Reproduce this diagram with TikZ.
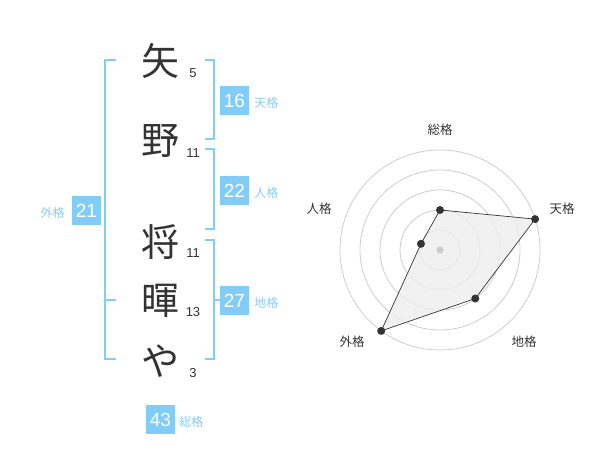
\documentclass[tikz,border=0pt]{standalone}
\usepackage{fontspec}
\setmainfont{Liberation Sans}
\newfontfamily\jpfont{Noto Sans CJK JP}
\usetikzlibrary{positioning}
\definecolor{kakublue}{HTML}{82CDF8}
\definecolor{kakutext}{HTML}{86CDF5}
\definecolor{inkgray}{HTML}{333333}
\definecolor{ringgray}{HTML}{CCCCCC}
\definecolor{areagray}{HTML}{EEEEEE}
\tikzset{
  moji/.style={font=\jpfont\fontsize{38}{38}\selectfont, text=inkgray, inner sep=0pt},
  kakusu/.style={font=\fontsize{13}{13}\selectfont, text=inkgray, inner sep=0pt},
  kakubox/.style={fill=kakublue, text=white, minimum size=29pt, inner sep=0pt, font=\fontsize{19}{19}\selectfont},
  kakuname/.style={font=\jpfont\fontsize{12}{12}\selectfont, text=kakutext, inner sep=0pt},
  kakku/.style={draw=kakublue, line width=2pt},
  radarname/.style={font=\jpfont\fontsize{12.5}{12.5}\selectfont, text=inkgray, inner sep=0pt},
  ring/.style={draw=ringgray, line width=0.8pt},
}
\begin{document}
\begin{tikzpicture}[x=1pt,y=-1pt]
    \useasboundingbox (0,0) rectangle (600,470);

    % name, one character per line
    \node[moji] (ya) at (160,61) {矢};
    \node[moji] (no) at (160,141) {野};
    \node[moji] (sho) at (160,242) {将};
    \node[moji] (ki) at (160,301) {暉};
    \node[moji] (ya2) at (160,361) {や};

    \node[kakusu] (n1) at (193,73) {5};
    \node[kakusu] (n2) at (193,153) {11};
    \node[kakusu] (n3) at (193,253) {11};
    \node[kakusu] (n4) at (193,312) {13};
    \node[kakusu] (n5) at (193,373) {3};

    % brackets
    \draw[kakku] (116,60) -- (105,60) -- (105,359) -- (116,359);
    \draw[kakku] (105,300) -- (116,300);
    \draw[kakku] (205,60) -- (214,60) -- (214,139) -- (205,139);
    \draw[kakku] (205,149) -- (214,149) -- (214,229) -- (205,229);
    \draw[kakku] (205,240) -- (214,240) -- (214,359) -- (205,359);
    \draw[kakku] (214,300) -- (222,300);

    % scores
    \node[kakubox] (tenkaku) at (234.5,100.5) {16};
    \node[kakubox] (jinkaku) at (234.5,190.5) {22};
    \node[kakubox] (chikaku) at (234.5,300.5) {27};
    \node[kakubox] (gaikaku) at (86.5,210.5) {21};
    \node[kakubox] (soukaku) at (160.5,419.5) {43};

    \node[kakuname, right=5pt of tenkaku, yshift=-2pt] (tenname) {天格};
    \node[kakuname, right=5pt of jinkaku, yshift=-2pt] (jinname) {人格};
    \node[kakuname, right=5pt of chikaku, yshift=-2pt] (chiname) {地格};
    \node[kakuname, left=7pt of gaikaku, yshift=-2pt] (gainame) {外格};
    \node[kakuname, right=4pt of soukaku, yshift=-2pt] (souname) {総格};

    % radar chart
    \begin{scope}[shift={(440,250)}, yscale=-1]
        \foreach \r in {20,40,60,80,100} {\draw[ring] (0,0) circle (\r pt);}

        \coordinate (sou) at (90:40);
        \coordinate (ten) at (18:100);
        \coordinate (chi) at (-54:60);
        \coordinate (gai) at (-126:100);
        \coordinate (jin) at (162:20);

        \fill[areagray, fill opacity=0.8] (sou) -- (ten) -- (chi) -- (gai) -- (jin) -- cycle;
        \draw[inkgray, line width=0.7pt] (sou) -- (ten) -- (chi) -- (gai) -- (jin) -- cycle;
        \fill[ringgray] (0,0) circle (3.6pt);
        \foreach \p in {sou,ten,chi,gai,jin} {\fill[inkgray] (\p) circle (4pt);}

        \node[radarname] (lsou) at (0,120) {総格};
        \node[radarname] (lten) at (122,41) {天格};
        \node[radarname] (lchi) at (84,-92) {地格};
        \node[radarname] (lgai) at (-88,-92) {外格};
        \node[radarname] (ljin) at (-121,41) {人格};
    \end{scope}
\end{tikzpicture}
\end{document}
